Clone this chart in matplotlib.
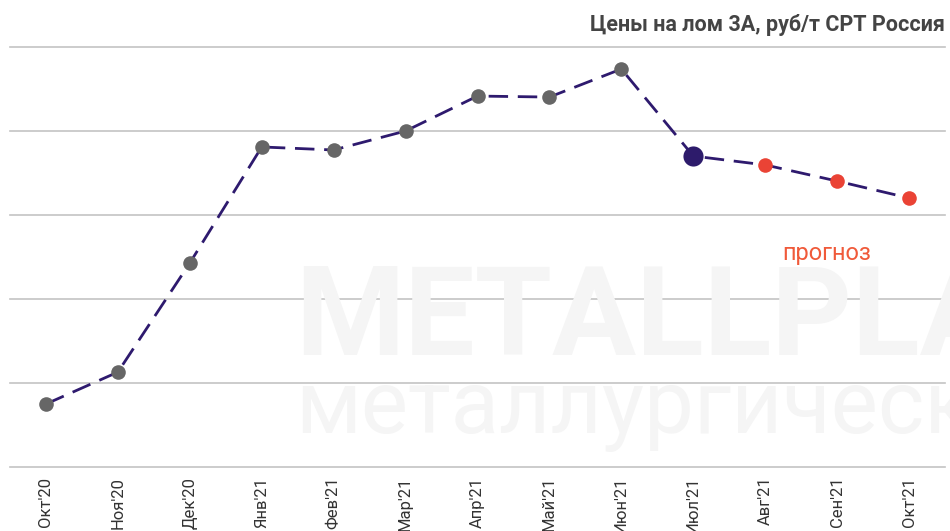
import matplotlib
matplotlib.use("Agg")
import matplotlib.pyplot as plt

months = ["Окт'20", "Ноя'20", "Дек'20", "Янв'21", "Фев'21", "Мар'21", "Апр'21",
          "Май'21", "Июн'21", "Июл'21", "Авг'21", "Сен'21", "Окт'21"]
prices = [18750, 20650, 27140, 34050, 33870, 35000, 37080, 37020, 38690,
          33510, 32980, 32020, 31010]
# marker kind per point: history / current / forecast
kinds = ["hist"] * 9 + ["current"] + ["fcst"] * 3
y_ticks = [15000, 20000, 25000, 30000, 35000, 40000]
title = "Цены на лом 3А, руб/т CPT Россия"
forecast_label = "прогноз"

plt.rcParams['font.family'] = ['Roboto', 'DejaVu Sans']

fig = plt.figure(figsize=(9.5, 5.31), dpi=100)
ax = fig.add_axes([10 / 950, (531 - 467) / 531, 935 / 950, 420 / 531])

x = list(range(len(months)))

# faint watermark
fig.text(295 / 950, 1 - 355 / 531, "METALLPLANT", fontsize=90, fontweight='bold',
         color='#f5f5f5', va='baseline', ha='left', zorder=0)
fig.text(295 / 950, 1 - 433 / 531, "металлургический", fontsize=64,
         color='#f5f5f5', va='baseline', ha='left', zorder=0)

for yt in y_ticks:
    ax.axhline(yt, color='#c4c4c4', lw=1.2, zorder=1, clip_on=False)

ax.plot(x, prices, color='#2e1a6e', lw=2.0, dashes=(7, 3.5), zorder=2)

styles = {"hist": dict(color='#666666', ms=10.5),
          "current": dict(color='#2d1b6b', ms=14.5),
          "fcst": dict(color='#ea4335', ms=10.5)}
for xi, yi, k in zip(x, prices, kinds):
    st = styles[k]
    ax.plot([xi], [yi], 'o', color=st['color'], ms=st['ms'], mec='none', zorder=3)

ax.text(10.85, 27680, forecast_label, color='#f05a3a', fontsize=17,
        ha='center', va='center')

ax.set_xlim(-0.5, len(months) - 0.5)
ax.set_ylim(15000, 40000)
ax.set_yticks([])
ax.set_xticks(x)
ax.set_xticklabels(months, rotation=90, fontsize=12, color='#333333', va='top')
ax.tick_params(axis='x', length=0, pad=7)
for s in ax.spines.values():
    s.set_visible(False)
ax.patch.set_alpha(0)

fig.text(945 / 950, 1 - 25 / 531, title, ha='right', va='center', fontsize=15.5,
         fontweight='bold', color='#444444')

fig.savefig("out.png", dpi=100)
